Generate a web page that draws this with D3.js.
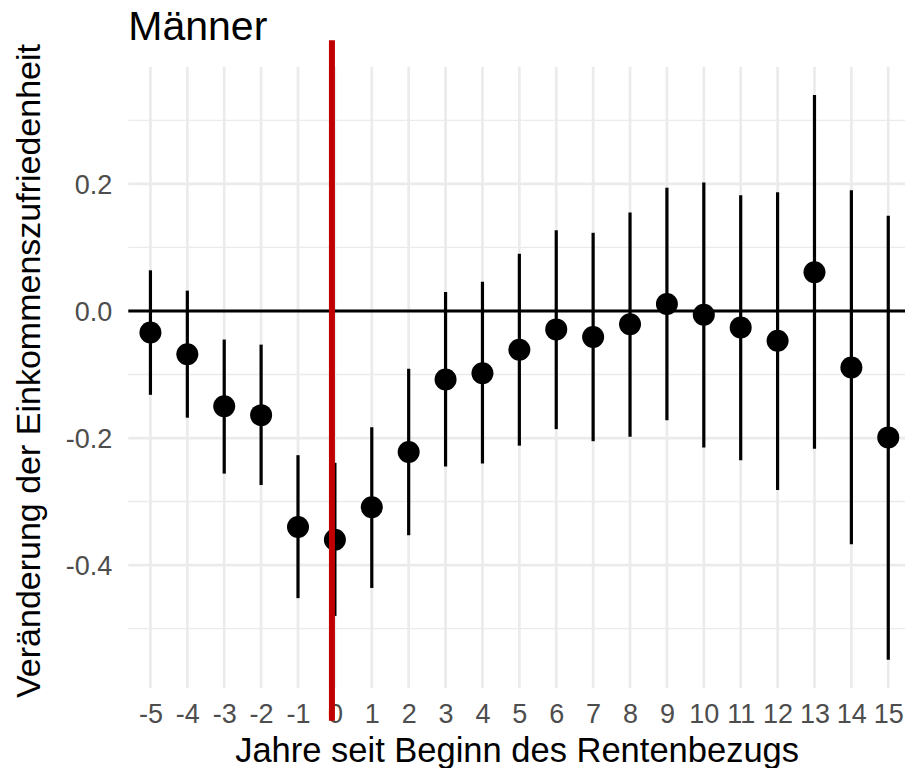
<!DOCTYPE html>
<html>
<head>
<meta charset="utf-8">
<script src="https://cdn.jsdelivr.net/npm/d3@7"></script>
<style>
  html, body { margin: 0; padding: 0; background: #ffffff; }
  svg { display: block; }
  text { font-family: "Liberation Sans", Arial, Helvetica, sans-serif; }
</style>
</head>
<body>
<div id="chart"></div>
<script>
// Event-study estimates: change in income satisfaction by years since pension start
const years = [-5, -4, -3, -2, -1, 0, 1, 2, 3, 4, 5, 6, 7, 8, 9, 10, 11, 12, 13, 14, 15];
const estimates = [-0.034, -0.068, -0.150, -0.164, -0.340, -0.360, -0.309, -0.222, -0.108, -0.098,
                   -0.061, -0.029, -0.041, -0.021, 0.011, -0.006, -0.026, -0.047, 0.061, -0.089, -0.199];
const lower = [-0.132, -0.168, -0.256, -0.274, -0.452, -0.480, -0.436, -0.353, -0.245, -0.240,
               -0.212, -0.186, -0.205, -0.198, -0.172, -0.215, -0.235, -0.282, -0.217, -0.367, -0.549];
const upper = [0.064, 0.032, -0.045, -0.053, -0.227, -0.239, -0.183, -0.091, 0.030, 0.046,
               0.090, 0.127, 0.123, 0.155, 0.194, 0.202, 0.182, 0.187, 0.340, 0.190, 0.150];
const yMajorTicks = [-0.4, -0.2, 0.0, 0.2];
const yMinorTicks = [-0.5, -0.3, -0.1, 0.1, 0.3];
const tickLabelsX = years.map(String);
const tickLabelsY = ["-0.4", "-0.2", "0.0", "0.2"];

// Reference lines: zero line and pension start marker
const zeroLine = 0;
const pensionStart = -0.08;
const pensionLineSpan = [-0.645, 0.426];

const title = "Männer";
const xTitle = "Jahre seit Beginn des Rentenbezugs";
const yTitle = "Veränderung der Einkommenszufriedenheit";

const W = 905, H = 768;
const panel = { left: 128.3, right: 910.4, top: 66.7, bottom: 688 };

const svg = d3.select("#chart").append("svg")
  .attr("width", W).attr("height", H);

const rows = years.map((yr, i) => ({ yr, est: estimates[i], lo: lower[i], hi: upper[i] }));

// x: discrete years, 0.6 step padding on both ends
const x = d3.scaleLinear().domain([years[0] - 0.6, years[years.length - 1] + 0.6])
  .range([panel.left, panel.right]);

// y: data range of the intervals, expanded by 5%
const yMin = d3.min(lower), yMax = d3.max(upper);
const pad = (yMax - yMin) * 0.05;
const y = d3.scaleLinear().domain([yMin - pad, yMax + pad]).range([panel.bottom, panel.top]);

const grid = svg.append("g");
grid.selectAll("line.minor").data(yMinorTicks).join("line")
  .attr("x1", panel.left).attr("x2", panel.right)
  .attr("y1", d => y(d)).attr("y2", d => y(d))
  .attr("stroke", "#ebebeb").attr("stroke-width", 1.4);
grid.selectAll("line.majory").data(yMajorTicks).join("line")
  .attr("x1", panel.left).attr("x2", panel.right)
  .attr("y1", d => y(d)).attr("y2", d => y(d))
  .attr("stroke", "#ebebeb").attr("stroke-width", 2.7);
grid.selectAll("line.majorx").data(years).join("line")
  .attr("x1", d => x(d)).attr("x2", d => x(d))
  .attr("y1", panel.top).attr("y2", panel.bottom)
  .attr("stroke", "#ebebeb").attr("stroke-width", 2.7);

// Axes (labels only, no lines)
const xAxis = svg.append("g")
  .attr("transform", `translate(0, ${panel.bottom})`)
  .call(d3.axisBottom(x).tickValues(years).tickFormat((d, i) => tickLabelsX[i]).tickSize(0).tickPadding(0));
xAxis.select(".domain").remove();
xAxis.selectAll("text")
  .attr("y", 35.3).attr("dy", null)
  .attr("fill", "#4d4d4d").style("font-size", "27px")
  .style("font-family", '"Liberation Sans", Arial, sans-serif');

const yAxis = svg.append("g")
  .attr("transform", `translate(${panel.left}, 0)`)
  .call(d3.axisLeft(y).tickValues(yMajorTicks).tickFormat((d, i) => tickLabelsY[i]).tickSize(0).tickPadding(0));
yAxis.select(".domain").remove();
yAxis.selectAll("text")
  .attr("x", -16).attr("dy", "0.36em")
  .attr("fill", "#4d4d4d").style("font-size", "27px")
  .style("font-family", '"Liberation Sans", Arial, sans-serif');

// Zero line
svg.append("line")
  .attr("x1", panel.left).attr("x2", panel.right)
  .attr("y1", y(zeroLine)).attr("y2", y(zeroLine))
  .attr("stroke", "#000").attr("stroke-width", 3);

// Confidence intervals
svg.append("g").selectAll("line").data(rows).join("line")
  .attr("x1", d => x(d.yr)).attr("x2", d => x(d.yr))
  .attr("y1", d => y(d.lo)).attr("y2", d => y(d.hi))
  .attr("stroke", "#000").attr("stroke-width", 3.2);

// Point estimates
svg.append("g").selectAll("circle").data(rows).join("circle")
  .attr("cx", d => x(d.yr)).attr("cy", d => y(d.est))
  .attr("r", 11).attr("fill", "#000");

// Titles
svg.append("text")
  .attr("x", panel.left).attr("y", 40)
  .style("font-size", "41px").attr("fill", "#000")
  .text(title);

svg.append("text")
  .attr("x", (panel.left + 905.9) / 2).attr("y", 761.5)
  .attr("text-anchor", "middle")
  .style("font-size", "34.5px").attr("fill", "#000")
  .text(xTitle);

svg.append("text")
  .attr("transform", `translate(40, 371) rotate(-90)`)
  .attr("text-anchor", "middle")
  .style("font-size", "34px").attr("fill", "#000")
  .text(yTitle);

// Pension start marker, drawn on top
svg.append("line")
  .attr("x1", x(pensionStart)).attr("x2", x(pensionStart))
  .attr("y1", y(pensionLineSpan[1])).attr("y2", y(pensionLineSpan[0]))
  .attr("stroke", "#c00000").attr("stroke-width", 6);
</script>
</body>
</html>
